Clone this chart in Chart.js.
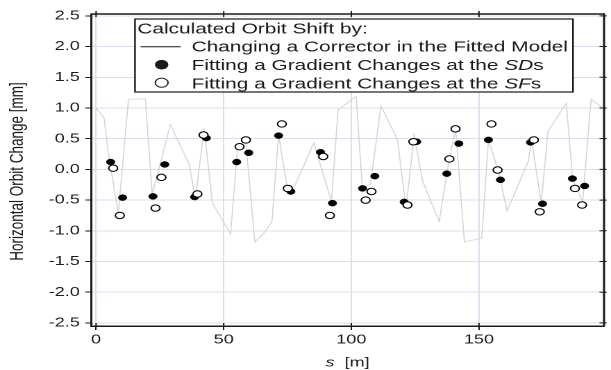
<!DOCTYPE html>
<html>
<head>
<meta charset="utf-8">
<script src="https://cdn.jsdelivr.net/npm/chart.js@4.4.1/dist/chart.umd.min.js"></script>
<style>
  html, body { margin: 0; padding: 0; background: #fff; overflow: hidden; }
  /* plot is laid out narrow and widened, so glyphs and markers come out broad */
  #wrap { width: 440px; height: 370px; transform: scaleX(1.38864); transform-origin: 0 0; }
</style>
</head>
<body>
<div id="wrap"><canvas id="c" width="440" height="370"></canvas></div>
<script>
const FONT = "'Liberation Sans', Arial, Helvetica, sans-serif";
const INK = '#1a1a1a';

// orbit shift from changing one corrector in the fitted model
const modelS = [0, 3.1, 4.8, 8.7, 12.7, 19.3, 22.0, 29.1, 36.5, 38.9, 42.3, 45.6, 52.7, 55.3, 58.5, 62.2,
  65.7, 68.9, 71.5, 74.7, 76.3, 78.0, 85.3, 92.2, 94.8, 101.9, 104.3, 107.5, 111.6, 118.1, 121.4, 124.6,
  128.0, 134.4, 137.5, 140.8, 144.3, 151.1, 153.7, 157.6, 161.0, 169.3, 170.6, 174.4, 177.0, 184.2, 186.7,
  190.6, 193.9, 196.5, 199];
const modelDx = [1.00, 0.84, 0.27, -0.72, 1.14, 1.15, -0.41, 0.73, 0.08, -0.49, 0.67, -0.55, -1.05, 0.30, 0.51, -1.18,
  -1.04, -0.85, 0.56, -0.25, -0.33, -0.25, 0.43, -0.52, 0.97, 1.19, -0.30, -0.24, 1.03, 0.48, -0.63, 0.56,
  -0.20, -0.85, -0.05, 0.67, -1.18, -1.12, 0.48, -0.03, -0.68, 0.13, 0.48, -0.55, 0.62, 1.08, -0.17,
  -0.52, 1.14, 1.06, 0.98];

// gradient changes fitted at the SD sextupoles
const sdS = [5.7, 10.4, 22.3, 26.9, 38.6, 43.2, 55.1, 59.8, 71.5, 76.3, 87.9, 92.6,
  104.4, 109.2, 120.7, 125.6, 137.4, 142.1, 153.7, 158.4, 170.2, 174.9, 186.6, 191.4];
const sdDx = [0.12, -0.46, -0.44, 0.08, -0.45, 0.51, 0.12, 0.27, 0.55, -0.36, 0.28, -0.55,
  -0.31, -0.11, -0.53, 0.45, -0.07, 0.42, 0.48, -0.17, 0.44, -0.56, -0.15, -0.27];

// gradient changes fitted at the SF sextupoles
const sfS = [6.7, 9.3, 23.3, 25.6, 39.7, 42.1, 56.2, 58.7, 72.8, 75.1, 89.0, 91.6,
  105.6, 107.9, 122.0, 124.3, 138.4, 140.8, 154.9, 157.3, 171.5, 173.8, 187.6, 190.4];
const sfDx = [0.02, -0.75, -0.63, -0.13, -0.40, 0.56, 0.37, 0.48, 0.74, -0.31, 0.21, -0.75,
  -0.50, -0.36, -0.58, 0.45, 0.17, 0.66, 0.74, -0.01, 0.48, -0.69, -0.31, -0.58];

const xTicks = [0, 50, 100, 150];
const yTicks = [-2.5, -2.0, -1.5, -1.0, -0.5, 0.0, 0.5, 1.0, 1.5, 2.0, 2.5];

const legendTitle = 'Calculated Orbit Shift by:';
const legendRows = [
  [['Changing a Corrector in the Fitted Model', false]],
  [['Fitting a Gradient Changes at the ', false], ['SD', true], ['s', false]],
  [['Fitting a Gradient Changes at the ', false], ['SF', true], ['s', false]],
];

const pts = (xs, ys) => xs.map((v, i) => ({ x: v, y: ys[i] }));

function richText(ctx, parts, x, y, size) {
  let cx = x;
  for (const [txt, italic] of parts) {
    ctx.font = (italic ? 'italic ' : '') + size + 'px ' + FONT;
    ctx.fillText(txt, cx, y);
    cx += ctx.measureText(txt).width;
  }
  return cx - x;
}

// frame, inner ticks, axis titles and the boxed key
const decor = {
  id: 'decor',
  afterDraw(chart) {
    const { ctx, chartArea: a, scales: { x, y } } = chart;
    ctx.save();
    ctx.strokeStyle = INK;
    ctx.lineWidth = 1.5;
    ctx.beginPath();
    ctx.moveTo(a.left, a.top); ctx.lineTo(a.right, a.top); ctx.lineTo(a.right, a.bottom);
    ctx.stroke();
    ctx.lineWidth = 1;
    ctx.beginPath();
    xTicks.forEach(v => {
      const px = x.getPixelForValue(v);
      ctx.moveTo(px, a.top - 3); ctx.lineTo(px, a.top + 3);
      ctx.moveTo(px, a.bottom); ctx.lineTo(px, a.bottom - 3);
    });
    yTicks.forEach(v => {
      const py = y.getPixelForValue(v);
      ctx.moveTo(a.right - 3.3, py); ctx.lineTo(a.right + 1.9, py);
    });
    ctx.stroke();

    // axis titles
    ctx.fillStyle = INK;
    ctx.textBaseline = 'alphabetic';
    ctx.textAlign = 'left';
    const xt = [['s', true], ['  [m]', false]];
    let w = 0;
    xt.forEach(([t, it]) => { ctx.font = (it ? 'italic ' : '') + '13px ' + FONT; w += ctx.measureText(t).width; });
    richText(ctx, xt, (a.left + a.right) / 2 - w / 2, 366.5, 13);

    ctx.save();
    ctx.translate(12.6, 171.5);
    ctx.rotate(-Math.PI / 2);
    ctx.textAlign = 'center';
    ctx.textBaseline = 'middle';
    ctx.font = '13.5px ' + FONT;
    ctx.fillText('Horizontal Orbit Change [mm]', 0, 0);
    ctx.restore();

    // key
    const bx = 97.2, by = 19, bw = 315.4, bh = 73;
    ctx.fillStyle = '#fff';
    ctx.fillRect(bx, by, bw, bh);
    ctx.strokeStyle = INK;
    ctx.lineWidth = 1.2;
    ctx.strokeRect(bx, by, bw, bh);
    ctx.fillStyle = INK;
    ctx.textAlign = 'left';
    richText(ctx, [[legendTitle, false]], 98.9, 33.3, 15);
    const base = [51.7, 70, 88.3];
    legendRows.forEach((parts, i) => richText(ctx, parts, 138, base[i], 15));
    ctx.lineWidth = 1;
    ctx.beginPath();
    ctx.moveTo(101.3, 46.7); ctx.lineTo(130.1, 46.7);
    ctx.stroke();
    ctx.beginPath();
    ctx.arc(116.4, 64.7, 4.8, 0, Math.PI * 2);
    ctx.fill();
    ctx.beginPath();
    ctx.arc(116.4, 82.7, 4.6, 0, Math.PI * 2);
    ctx.fillStyle = '#fff';
    ctx.fill();
    ctx.stroke();
    ctx.restore();
  }
};

new Chart(document.getElementById('c'), {
  type: 'scatter',
  data: {
    datasets: [
      {
        label: 'SF',
        data: pts(sfS, sfDx),
        pointRadius: 3.2,
        pointBackgroundColor: '#fff',
        pointBorderColor: '#000',
        pointBorderWidth: 1,
      },
      {
        label: 'SD',
        data: pts(sdS, sdDx),
        pointRadius: 3,
        pointBackgroundColor: '#000',
        pointBorderColor: '#000',
        pointBorderWidth: 0.5,
      },
      {
        label: 'model',
        data: pts(modelS, modelDx),
        showLine: true,
        borderColor: '#d4d4d4',
        borderWidth: 0.8,
        pointRadius: 0,
        tension: 0,
      },
    ],
  },
  options: {
    responsive: false,
    devicePixelRatio: 2,
    animation: false,
    layout: { padding: { top: 14, right: 1.8, bottom: 0, left: 0 } },
    plugins: { legend: { display: false }, tooltip: { enabled: false } },
    scales: {
      x: {
        type: 'linear',
        min: -2,
        max: 199,
        afterBuildTicks: s => { s.ticks = xTicks.map(v => ({ value: v })); },
        afterFit: s => { s.height = 44; },
        grid: { color: '#dcdcef', lineWidth: 1, tickColor: INK, tickLength: 4 },
        border: { color: INK, width: 1.5 },
        ticks: {
          autoSkip: false, maxRotation: 0, padding: 2, color: INK,
          font: { family: FONT, size: 13 },
          callback: v => String(v),
        },
      },
      y: {
        type: 'linear',
        min: -2.55,
        max: 2.53,
        afterBuildTicks: s => { s.ticks = yTicks.map(v => ({ value: v })); },
        afterFit: s => { s.width = 65.5; },
        grid: { color: '#dcdcef', lineWidth: 1, tickColor: INK, tickLength: 4 },
        border: { color: INK, width: 1.5 },
        ticks: {
          autoSkip: false, padding: 4, color: INK,
          font: { family: FONT, size: 13 },
          callback: v => v.toFixed(1),
        },
      },
    },
  },
  plugins: [decor],
});
</script>
</body>
</html>
